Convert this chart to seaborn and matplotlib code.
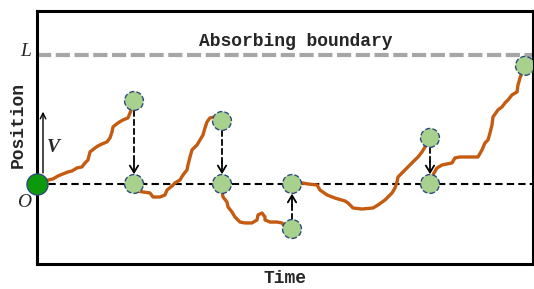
import numpy as np
import pandas as pd
import matplotlib
matplotlib.use('Agg')
import matplotlib.pyplot as plt
import seaborn as sns

# positions are in units where the absorbing boundary sits at L = 10
L = 10.0
T_MAX = 99.2
Y_MIN, Y_MAX = -6.2, 13.4

# walk segments (time, position); each one starts after a reset to 0
seg1_t = [0, 1.4, 3.2, 4.2, 5.2, 6.2, 7.0, 8.0, 9.0, 9.6, 10.2, 10.6, 11.6, 12.2, 13.0,
          14.0, 14.6, 15.0, 15.2, 16.2, 17.2, 18.2, 18.6, 19.0, 19.4]
seg1_x = [0, 0.23, 0.39, 0.62, 0.78, 0.93, 1.01, 1.24, 1.32, 1.63, 1.86, 2.48, 2.79, 2.95, 3.10,
          3.26, 3.57, 4.03, 4.42, 4.73, 4.96, 5.12, 5.50, 5.89, 6.43]

seg2_t = [19.4, 20.0, 21.2, 22.6, 23.2, 24.6, 25.6, 26.0, 27.0, 27.6, 28.6, 29.2, 30.0, 30.2,
          30.6, 31.0, 32.0, 32.6, 33.2, 33.6, 34.0, 34.6, 35.6, 37.0]
seg2_x = [0, -0.54, -0.62, -0.70, -1.01, -1.01, -0.85, -0.47, -0.16, 0.08, 0.31, 0.70, 1.09, 1.47,
          2.09, 2.64, 3.02, 3.41, 3.80, 4.34, 4.81, 5.12, 5.19, 4.88]

seg3_t = [37.0, 37.0, 37.2, 38.0, 38.2, 39.0, 39.6, 40.6, 41.6, 43.0, 44.0, 44.2, 45.0, 45.6,
          45.6, 46.6, 48.0, 49.0, 49.6, 50.2, 51.0]
seg3_x = [0, -0.54, -1.01, -1.40, -1.78, -2.17, -2.56, -2.95, -3.02, -3.02, -2.79, -2.40, -2.25, -2.56,
          -2.79, -2.95, -2.95, -3.02, -3.33, -3.49, -3.49]

seg4_t = [51.0, 53.0, 54.2, 56.0, 56.6, 58.0, 59.6, 61.6, 62.2, 63.2, 65.0, 67.2, 68.2, 69.6,
          71.0, 71.6, 72.0, 72.2, 73.2, 74.2, 75.2, 76.2, 77.0, 77.6, 78.6]
seg4_x = [0, 0.08, 0, -0.08, -0.47, -0.85, -1.09, -1.32, -1.47, -1.86, -1.94, -1.86, -1.63, -1.24,
          -0.70, -0.31, 0.16, 0.54, 0.93, 1.32, 1.71, 2.09, 2.48, 2.87, 3.57]

seg5_t = [78.6, 79.2, 80.0, 81.0, 82.0, 83.0, 83.6, 84.6, 86.6, 88.2, 89.0, 89.6, 90.2, 90.6,
          91.0, 91.2, 92.2, 93.0, 93.6, 94.2, 95.0, 96.0, 96.2, 96.6, 97.0, 97.6]
seg5_x = [0, 0.70, 1.24, 1.47, 1.55, 1.63, 2.02, 2.09, 2.09, 2.09, 2.64, 3.18, 3.41, 3.95,
          4.57, 5.19, 5.74, 5.97, 6.28, 6.51, 6.90, 7.13, 7.67, 8.22, 8.60, 9.15]

segments = [(seg1_t, seg1_x), (seg2_t, seg2_x), (seg3_t, seg3_x),
            (seg4_t, seg4_x), (seg5_t, seg5_x)]

rows = []
for i, (ts, xs) in enumerate(segments):
    for t, x in zip(ts, xs):
        rows.append((i, t, x))
df = pd.DataFrame(rows, columns=['seg', 'time', 'pos'])

ends = df.groupby('seg').last().reset_index()
starts = df.groupby('seg').first().reset_index()

ORANGE = '#c55a11'
LIGHT = '#a9d18e'
EDGE = '#2f4b7c'
DARK = '#0c9a0c'
MONO = 'Liberation Mono'
SERIF = 'Liberation Serif'

sns.set_style('white')
fig = plt.figure(figsize=(5.34, 2.89), dpi=100)
ax = fig.add_axes([37 / 534, 25 / 289, 496 / 534, 253 / 289])

# reference lines
ax.axhline(0, color='black', lw=1.5, ls=(0, (3.5, 2)), zorder=2)
ax.axhline(L, color='#a6a6a6', lw=3, ls=(0, (3.4, 1.1)), zorder=2)

sns.lineplot(data=df, x='time', y='pos', units='seg', estimator=None, sort=False,
             color=ORANGE, lw=2.4, ax=ax, zorder=3)

# reset arrows (dashed shaft + solid head)
for i in range(len(ends) - 1):
    t, y = ends.loc[i, 'time'], ends.loc[i, 'pos']
    ax.annotate('', xy=(t, 0), xytext=(t, y),
                arrowprops=dict(arrowstyle='-', ls=(0, (3, 2)), lw=1.3, color='black',
                                shrinkA=7, shrinkB=14), zorder=4)
    off = 16 if y > 0 else -16
    ax.annotate('', xy=(t, 0), xytext=(0, off), textcoords='offset points',
                arrowprops=dict(arrowstyle='->,head_length=0.5,head_width=0.3', lw=1.3,
                                color='black', shrinkA=0, shrinkB=7), zorder=4)

# circles: end of each segment, reset points, origin
sns.scatterplot(data=ends, x='time', y='pos', s=185, color=LIGHT, edgecolor=EDGE,
                linewidth=1, linestyle='--', ax=ax, zorder=5, legend=False)
sns.scatterplot(data=starts.iloc[1:], x='time', y='pos', s=185, color=LIGHT, edgecolor=EDGE,
                linewidth=1, linestyle='--', ax=ax, zorder=5, legend=False)
sns.scatterplot(data=starts.iloc[:1], x='time', y='pos', s=230, color=DARK, edgecolor=EDGE,
                linewidth=1, ax=ax, zorder=6, legend=False, clip_on=False)

# velocity arrow
ax.annotate('', xy=(1.2, 5.6), xytext=(1.2, 0.85),
            arrowprops=dict(arrowstyle='->,head_length=0.4,head_width=0.2', lw=1, color='black',
                            shrinkA=0, shrinkB=0))
ax.text(1.9, 2.8, 'V', fontfamily=SERIF, fontstyle='italic', fontweight='bold', fontsize=14,
        ha='left', va='center')

ax.text(51.8, 11.05, 'Absorbing boundary', fontfamily=MONO, fontweight='bold', fontsize=13,
        ha='center', va='center')

ax.text(-0.012, L + 0.25, 'L', transform=ax.get_yaxis_transform(), fontfamily=SERIF,
        fontstyle='italic', fontsize=14, ha='right', va='center')
ax.text(-0.012, -1.4, 'O', transform=ax.get_yaxis_transform(), fontfamily=SERIF,
        fontstyle='italic', fontsize=14, ha='right', va='center')

ax.set_xlim(0, T_MAX)
ax.set_ylim(Y_MIN, Y_MAX)
ax.set_xticks([])
ax.set_yticks([])

ax.set_xlabel('Time', fontfamily=MONO, fontweight='bold', fontsize=13)
ax.set_ylabel('Position', fontfamily=MONO, fontweight='bold', fontsize=13)
ax.xaxis.label.set_verticalalignment('center')
ax.yaxis.label.set_verticalalignment('center')
ax.xaxis.set_label_coords(0.5, -0.058)
ax.yaxis.set_label_coords(-0.038, 0.55)

for s in ax.spines.values():
    s.set_visible(True)
    s.set_color('black')
    s.set_linewidth(2.2)

fig.savefig('out.png', dpi=100)
